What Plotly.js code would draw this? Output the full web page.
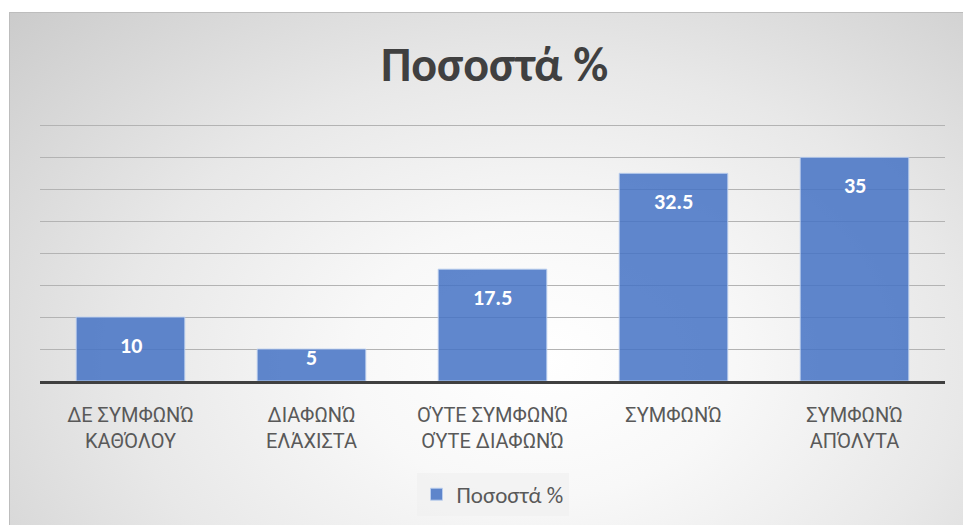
<!DOCTYPE html>
<html>
<head>
<meta charset="utf-8">
<script src="https://cdn.plot.ly/plotly-3.0.1.min.js"></script>
<style>
  html, body { margin: 0; padding: 0; background: #ffffff; width: 963px; height: 525px; overflow: hidden; }
  #chart {
    position: absolute; left: 9px; top: 12px; width: 954px; height: 513px;
    border-left: 1px solid #bdbdbd; border-top: 1px solid #bdbdbd;
    background: radial-gradient(ellipse 80% 105% at 56% 68%, #ffffff 0%, #f8f8f8 25%, #e8e8e8 55%, #c8c8c8 100%);
    box-sizing: border-box;
  }
</style>
</head>
<body>
<div id="chart"></div>
<script>
const categories = [
  "\u0394\u0395 \u03A3\u03A5\u039C\u03A6\u03A9\u039D\u038F<br>\u039A\u0391\u0398\u038C\u039B\u039F\u03A5",
  "\u0394\u0399\u0391\u03A6\u03A9\u039D\u038F<br>\u0395\u039B\u0386\u03A7\u0399\u03A3\u03A4\u0391",
  "\u039F\u038E\u03A4\u0395 \u03A3\u03A5\u039C\u03A6\u03A9\u039D\u038F<br>\u039F\u038E\u03A4\u0395 \u0394\u0399\u0391\u03A6\u03A9\u039D\u038F",
  "\u03A3\u03A5\u039C\u03A6\u03A9\u039D\u038F",
  "\u03A3\u03A5\u039C\u03A6\u03A9\u039D\u038F<br>\u0391\u03A0\u038C\u039B\u03A5\u03A4\u0391"
];
const values = [10, 5, 17.5, 32.5, 35];
const seriesName = "Ποσοστά %";
const chartTitle = "Ποσοστά %";
const yTicks = [0, 5, 10, 15, 20, 25, 30, 35, 40];

const FONT = "Carlito, Roboto, 'Noto Sans', sans-serif";
const TICKFONT = "Roboto, 'Noto Sans', sans-serif";
const yMax = 41;
const plotH = 263;

const annotations = values.map((v, i) => {
  const px = v * plotH / yMax;
  const shift = px >= 60 ? -28 : -px / 4;
  return {
    x: categories[i], y: v, xref: 'x', yref: 'y',
    text: String(v), showarrow: false,
    yanchor: 'middle', yshift: shift,
    font: {family: FONT, size: 22, color: '#ffffff', weight: 700}
  };
});

const trace = {
  type: 'bar',
  x: categories,
  y: values,
  name: seriesName,
  marker: {color: 'rgba(68,114,196,0.85)', line: {color: 'rgba(190,208,238,0.9)', width: 1}},
  hoverinfo: 'none'
};

const layout = {
  width: 954, height: 513,
  margin: {l: 30, r: 19, t: 106, b: 144},
  paper_bgcolor: 'rgba(0,0,0,0)',
  plot_bgcolor: 'rgba(0,0,0,0)',
  title: {text: '<b>' + chartTitle + '</b>', x: 0.508, xanchor: 'center', y: 0.9, yanchor: 'middle', yref: 'container',
          font: {family: FONT, size: 48, color: '#404040'}},
  bargap: 0.4,
  showlegend: true,
  legend: {orientation: 'h', x: 0.5, xanchor: 'center', y: -0.345, yanchor: 'top',
           bgcolor: 'rgba(238,238,238,0.55)', font: {family: FONT, size: 23, color: '#595959'},
           itemwidth: 30},
  xaxis: {
    type: 'category', showgrid: false, showline: true, linecolor: '#404040', linewidth: 3,
    ticks: '', tickfont: {family: TICKFONT, size: 20, color: '#595959'}, ticklabelstandoff: 14,
    fixedrange: true
  },
  yaxis: {
    range: [0, yMax], tickvals: yTicks, showticklabels: false, showgrid: true,
    gridcolor: '#b3b3b3', gridwidth: 1, zeroline: false, fixedrange: true
  },
  annotations: annotations
};

Plotly.newPlot('chart', [trace], layout, {displayModeBar: false, staticPlot: true});
</script>
</body>
</html>
